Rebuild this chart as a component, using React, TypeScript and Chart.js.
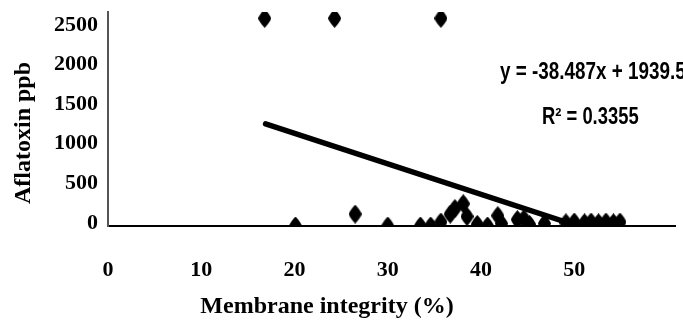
import React, { useEffect, useRef } from "react";
import { Chart, registerables } from "chart.js";

Chart.register(...registerables);

// ---- data ----
const membraneIntegrity = [
  16.8, 24.3, 35.7,
  20.1, 26.5, 30.0, 33.5, 34.6, 35.7, 36.7, 37.2, 38.1, 38.5, 39.6, 40.7,
  41.8, 42.2, 43.9, 44.6, 45.2, 46.8,
  49.1, 50.0, 51.1, 51.8, 52.6, 53.4, 54.2, 54.9,
];
const aflatoxinPpb = [
  2620, 2620, 2620,
  0, 150, 0, 0, 0, 50, 150, 220, 280, 120, 20, 0,
  130, 30, 80, 90, 20, 30,
  40, 50, 40, 50, 40, 50, 40, 50,
];
const xTickValues = [0, 10, 20, 30, 40, 50];
const yTickValues = [0, 500, 1000, 1500, 2000, 2500];
const trendSlope = -38.487;
const trendIntercept = 1939.5;
const trendXRange = [16.9, 50.4];
const equationLabel = "y = -38.487x + 1939.5";
const r2Label = "R² = 0.3355";
const xTitle = "Membrane integrity (%)";
const yTitle = "Aflatoxin ppb";

function makeDiamond(): HTMLCanvasElement {
  const c = document.createElement("canvas");
  c.width = 13;
  c.height = 19;
  const g = c.getContext("2d")!;
  g.fillStyle = "#000";
  g.beginPath();
  g.moveTo(6.5, 0);
  g.quadraticCurveTo(12, 6, 13, 9.5);
  g.quadraticCurveTo(12, 13, 6.5, 19);
  g.quadraticCurveTo(1, 13, 0, 9.5);
  g.quadraticCurveTo(1, 6, 6.5, 0);
  g.closePath();
  g.fill();
  return c;
}

const textPlugin = {
  id: "textPlugin",
  afterDraw(chart: any) {
    const { ctx, chartArea } = chart;
    ctx.save();
    ctx.fillStyle = "#000";
    ctx.textBaseline = "middle";
    // regression annotation
    ctx.font = "bold 23px 'Liberation Sans', Arial, sans-serif";
    ctx.textAlign = "left";
    ctx.save();
    ctx.translate(chartArea.left + 392, 73);
    ctx.scale(0.82, 1);
    ctx.fillText(equationLabel, 0, 0);
    ctx.restore();
    ctx.save();
    ctx.translate(chartArea.left + 434, 118);
    ctx.scale(0.8, 1);
    ctx.fillText(r2Label, 0, 0);
    ctx.restore();
    // axis titles
    ctx.font = "bold 24px 'Liberation Serif', 'Times New Roman', serif";
    ctx.textAlign = "center";
    ctx.fillText(xTitle, chartArea.left + 219, 307);
    ctx.save();
    ctx.translate(24, 133);
    ctx.rotate(-Math.PI / 2);
    ctx.fillText(yTitle, 0, 0);
    ctx.restore();
    ctx.restore();
  },
};

export default function App() {
  const ref = useRef<HTMLCanvasElement | null>(null);

  useEffect(() => {
    if (!ref.current) return;
    const diamond = makeDiamond();
    const points = membraneIntegrity.map((x, i) => ({ x, y: aflatoxinPpb[i] }));
    const trend = trendXRange.map((x) => ({ x, y: trendSlope * x + trendIntercept }));
    const tickFont = { family: "'Liberation Serif', 'Times New Roman', serif", size: 22, weight: "bold" as const };

    const chart = new Chart(ref.current, {
      type: "scatter",
      data: {
        datasets: [
          {
            type: "line",
            data: trend,
            borderColor: "#000",
            borderWidth: 5.5,
            pointRadius: 0,
            borderCapStyle: "round",
            fill: false,
          } as any,
          {
            data: points,
            pointStyle: diamond as any,
            pointRadius: 7,
            backgroundColor: "#000",
            borderColor: "#000",
          },
        ],
      },
      options: {
        animation: false,
        responsive: false,
        maintainAspectRatio: false,
        layout: { padding: { top: 12, left: 0, right: 0, bottom: 0 } },
        plugins: { legend: { display: false }, tooltip: { enabled: false }, title: { display: false } },
        scales: {
          x: {
            type: "linear",
            min: 0,
            max: 60.8,
            afterBuildTicks: (axis: any) => {
              axis.ticks = xTickValues.map((v) => ({ value: v }));
            },
            afterFit: (axis: any) => {
              axis.height = 100;
              axis.paddingLeft = 0;
              axis.paddingRight = 0;
            },
            grid: { display: false, drawTicks: false },
            border: { display: true, color: "#000", width: 2 },
            ticks: { font: tickFont, color: "#000", padding: 31, maxRotation: 0, callback: (v: any) => String(v) },
          },
          y: {
            type: "linear",
            min: 0,
            max: 2700,
            afterBuildTicks: (axis: any) => {
              axis.ticks = yTickValues.map((v) => ({ value: v }));
            },
            afterFit: (axis: any) => {
              axis.width = 108;
              axis.paddingTop = 0;
              axis.paddingBottom = 0;
            },
            grid: { display: false, drawTicks: false },
            border: { display: true, color: "#555", width: 2 },
            ticks: { font: tickFont, color: "#000", padding: 10, labelOffset: -3, callback: (v: any) => String(v) },
          },
        },
      },
      plugins: [textPlugin],
    });
    return () => chart.destroy();
  }, []);

  return (
    <div style={{ position: "absolute", left: 0, top: 0, width: 683, height: 326, background: "#fff" }}>
      <canvas ref={ref} width={683} height={326} style={{ width: 683, height: 326 }} />
    </div>
  );
}
